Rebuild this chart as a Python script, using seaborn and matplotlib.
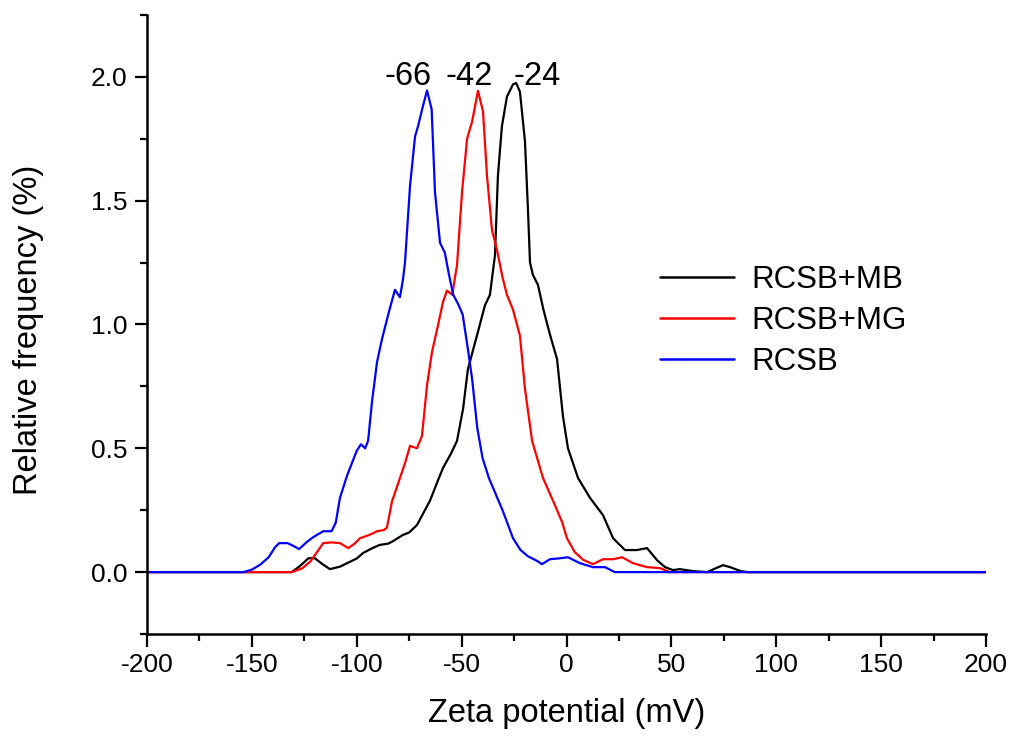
import numpy as np
import pandas as pd
import matplotlib
matplotlib.use("Agg")
import matplotlib.pyplot as plt
from matplotlib.ticker import MultipleLocator
import seaborn as sns

# ---- data ----
mb_x = [-200, -131, -127, -123, -120, -116, -112.8, -108, -104.6, -100, -97, -93, -89, -85, -82.7,
        -78, -75, -71.3, -67.5, -65, -61.3, -58.9, -55, -52.2, -49.3, -47, -42.7, -38.9, -36.5,
        -34.1, -32.7, -30.8, -28.4, -25.5, -24, -22.2, -19.8, -18.4, -17.4, -16, -13.6, -11, -7.9,
        -4.5, -1.7, 0.7, 5.5, 11.2, 17.4, 22.2, 27.9, 33.6, 38.4, 43.2, 47, 50.8, 54, 60.3, 67,
        71, 74.6, 78, 82.7, 86, 200]
mb_y = [0, 0, 0.025, 0.056, 0.056, 0.03, 0.012, 0.022, 0.036, 0.055, 0.077, 0.095, 0.11, 0.115, 0.125,
        0.15, 0.16, 0.19, 0.25, 0.29, 0.37, 0.42, 0.48, 0.53, 0.66, 0.82, 0.955, 1.077, 1.12,
        1.28, 1.60, 1.80, 1.92, 1.97, 1.975, 1.94, 1.74, 1.47, 1.25, 1.20, 1.16, 1.06, 0.96,
        0.86, 0.63, 0.50, 0.38, 0.30, 0.23, 0.137, 0.089, 0.089, 0.097, 0.048, 0.02, 0.008, 0.012, 0.004, 0,
        0.015, 0.028, 0.02, 0.005, 0, 0]

mg_x = [-200, -131, -126, -122, -119, -116, -112, -108, -104, -101, -98.4, -94, -90.3, -87, -85.6,
        -83.2, -79.4, -77, -74.6, -71.3, -68.9, -66.5, -64.1, -61.3, -58.9, -57, -54.5, -52.2,
        -49.8, -47.4, -45, -42.2, -39.8, -37.9, -35.5, -33.1, -30.5, -28.4, -25.5, -22.2, -19.8,
        -16.4, -11.2, -5.5, -2, 0.2, 4, 7.9, 12.6, 17.4, 22.2, 26.5, 31.7, 38.4, 44.6, 49.3, 200]
mg_y = [0, 0, 0.015, 0.044, 0.08, 0.117, 0.12, 0.117, 0.097, 0.115, 0.137, 0.15, 0.165, 0.17, 0.18,
        0.285, 0.38, 0.44, 0.51, 0.50, 0.55, 0.755, 0.89, 0.995, 1.09, 1.137, 1.12, 1.24,
        1.535, 1.75, 1.82, 1.944, 1.86, 1.60, 1.38, 1.30, 1.19, 1.12, 1.06, 0.955, 0.74,
        0.53, 0.38, 0.27, 0.2, 0.137, 0.08, 0.05, 0.032, 0.052, 0.052, 0.06, 0.036, 0.02, 0.016, 0, 0]

rc_x = [-200, -154, -150, -146, -142, -139, -137, -133, -130, -127.5, -124, -121, -116, -112, -110,
        -108, -104.6, -100, -98, -96, -94.6, -92.7, -90.3, -88, -85, -81.8, -79.4, -78, -77, -74.6,
        -72.2, -70.8, -68.5, -66.5, -64.3, -62.7, -60.3, -58, -56, -54, -51.5, -49.5, -47, -45,
        -42.5, -40, -37, -34, -30.5, -25.5, -22, -18.4, -14, -11.7, -7.9, -4, 0.7, 6.4, 12.6, 18.4, 23, 200]
rc_y = [0, 0, 0.01, 0.03, 0.06, 0.1, 0.117, 0.117, 0.105, 0.093, 0.12, 0.14, 0.165, 0.165, 0.2,
        0.30, 0.39, 0.49, 0.516, 0.50, 0.53, 0.69, 0.85, 0.94, 1.04, 1.14, 1.11, 1.18, 1.25, 1.56,
        1.76, 1.80, 1.88, 1.945, 1.87, 1.535, 1.33, 1.29, 1.20, 1.12, 1.08, 1.04, 0.90, 0.78,
        0.58, 0.46, 0.38, 0.32, 0.25, 0.137, 0.09, 0.064, 0.045, 0.032, 0.052, 0.055, 0.06, 0.036, 0.02, 0.02, 0, 0]

series_names = ["RCSB+MB", "RCSB+MG", "RCSB"]
series_colors = ["#000000", "#ff0000", "#0000ff"]
peak_labels = ["-66", "-42", "-24"]
peak_label_x = [-75.6, -46.3, -13.8]
peak_label_y = [1.968, 1.968, 1.968]
x_ticks = [-200, -150, -100, -50, 0, 50, 100, 150, 200]
y_ticks = [0.0, 0.5, 1.0, 1.5, 2.0]
y_ticklabels = ["0.0", "0.5", "1.0", "1.5", "2.0"]

df = pd.concat([
    pd.DataFrame({"x": mb_x, "y": mb_y, "s": series_names[0]}),
    pd.DataFrame({"x": mg_x, "y": mg_y, "s": series_names[1]}),
    pd.DataFrame({"x": rc_x, "y": rc_y, "s": series_names[2]}),
], ignore_index=True)

sns.set_style("ticks")
plt.rcParams["font.family"] = ["Liberation Sans", "DejaVu Sans"]
plt.rcParams["axes.unicode_minus"] = False
plt.rcParams["text.color"] = "black"
plt.rcParams["axes.labelcolor"] = "black"

fig = plt.figure(figsize=(10.11, 7.37), dpi=100)
ax = fig.add_axes([147 / 1011, 1 - 634 / 737, (986 - 147) / 1011, (634 - 15) / 737])

sns.lineplot(data=df, x="x", y="y", hue="s", hue_order=series_names,
             palette=series_colors, linewidth=1.6, sort=False, estimator=None, ax=ax)
for ln in ax.get_lines():
    ln.set_solid_joinstyle("round")

ax.set_xlim(-200, 200)
ax.set_ylim(-0.25, 2.25)
ax.set_xticks(x_ticks)
ax.set_xticklabels([str(v) for v in x_ticks])
ax.xaxis.set_minor_locator(MultipleLocator(25))
ax.set_yticks(y_ticks)
ax.set_yticklabels(y_ticklabels)
ax.yaxis.set_minor_locator(MultipleLocator(0.25))

for side in ["top", "right"]:
    ax.spines[side].set_visible(False)
for side in ["left", "bottom"]:
    ax.spines[side].set_linewidth(1.8)
    ax.spines[side].set_color("black")

ax.tick_params(which="major", direction="out", length=9, width=1.6, labelsize=19, colors="black")
ax.tick_params(which="minor", direction="out", length=5, width=1.6, colors="black")
ax.tick_params(axis="x", which="major", pad=5)
ax.tick_params(axis="y", which="major", pad=5)

ax.set_xlabel("Zeta potential (mV)", fontsize=23.5)
ax.set_ylabel("Relative frequency (%)", fontsize=23.5)
ax.xaxis.set_label_coords(0.5, -0.103)
ax.yaxis.set_label_coords(-0.1228, 0.492)

for t, xx, yy in zip(peak_labels, peak_label_x, peak_label_y):
    ax.text(xx, yy, t, fontsize=23.5, ha="center", va="baseline")

leg = ax.legend(loc="upper left", bbox_to_anchor=(0.611, 0.5966), frameon=False,
                fontsize=22.5, handlelength=2.37, handletextpad=0.58, labelspacing=0.36,
                borderpad=0, borderaxespad=0)
for line in leg.get_lines():
    line.set_linewidth(1.8)

fig.savefig("out.png", dpi=100)
